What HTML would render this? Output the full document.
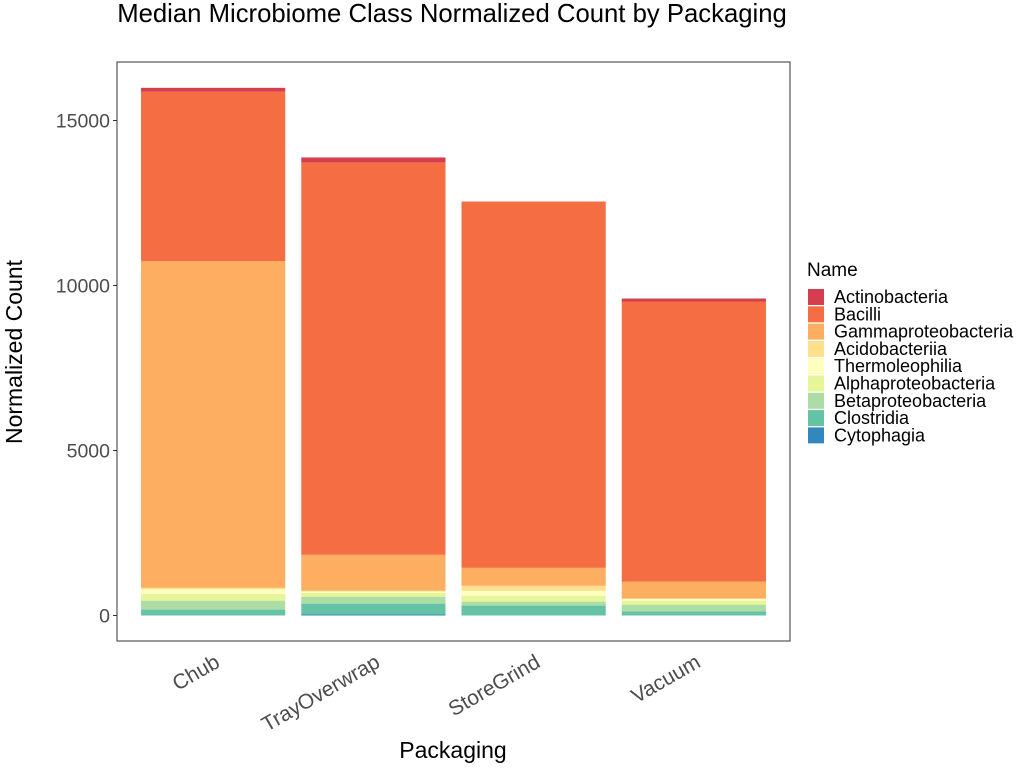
<!DOCTYPE html>
<html><head><meta charset="utf-8"><style>
body{margin:0;background:#fff;font-family:"Liberation Sans",sans-serif}
</style></head><body>
<svg id="chart" width="1024" height="768" xmlns="http://www.w3.org/2000/svg">
<text x="452" y="22" font-size="25.7" text-anchor="middle" fill="#000">Median Microbiome Class Normalized Count by Packaging</text>
<rect x="117" y="62" width="673" height="579" fill="#fff" stroke="#333" stroke-width="1"/>
<g id="bars"></g><g id="yaxis"></g><g id="xaxis"></g>
<text x="453" y="758" font-size="23" text-anchor="middle">Packaging</text>
<text transform="translate(22,352) rotate(-90)" font-size="23" text-anchor="middle">Normalized Count</text>
<text x="807" y="276" font-size="19">Name</text>
<g id="legend"></g>
</svg>
<script>
const categories=["Chub","TrayOverwrap","StoreGrind","Vacuum"];
const names=["Cytophagia","Clostridia","Betaproteobacteria","Alphaproteobacteria","Thermoleophilia","Acidobacteriia","Gammaproteobacteria","Bacilli","Actinobacteria"];
const colors=["#3288BD","#66C2A5","#ABDDA4","#E6F598","#FFFFBF","#FEE08B","#FDAE61","#F46D43","#D53E4F"];
const cytophagia=[0,30,0,0];
const clostridia=[180,330,300,120];
const betaproteobacteria=[270,210,120,210];
const alphaproteobacteria=[210,120,180,120];
const thermoleophilia=[140,40,150,60];
const acidobacteriia=[40,20,150,0];
const gammaproteobacteria=[9900,1090,545,515];
const bacilli=[5130,11890,11100,8490];
const actinobacteria=[120,150,0,90];
const series=[cytophagia,clostridia,betaproteobacteria,alphaproteobacteria,thermoleophilia,acidobacteriia,gammaproteobacteria,bacilli,actinobacteria];
const yTicks=[0,5000,10000,15000];
const NS="http://www.w3.org/2000/svg";
function y(v){return 615.5-v*0.033;}
function x(i){return 117+(i+1-0.4)*(673/4.2);}
const bw=0.9*673/4.2;
function mk(t,a,p){const e=document.createElementNS(NS,t);for(const k in a)e.setAttribute(k,a[k]);document.getElementById(p).appendChild(e);return e;}
categories.forEach((c,i)=>{let cum=0;series.forEach((s,j)=>{const v=s[i];if(v<=0)return;
const r=mk("rect",{x:x(i)-bw/2,y:y(cum+v),width:bw,height:y(cum)-y(cum+v),fill:colors[j]},"bars");


cum+=v;});
const t=mk("text",{transform:`translate(${x(i)+8},${666}) rotate(-30)`,"font-size":21,fill:"#4D4D4D","text-anchor":"end"},"xaxis");t.textContent=c;


});
yTicks.forEach(v=>{const l=mk("line",{x1:113,x2:117,y1:y(v),y2:y(v),stroke:"#333"},"yaxis");


const t=mk("text",{x:110,y:y(v)+7,"font-size":19.5,fill:"#4D4D4D","text-anchor":"end"},"yaxis");t.textContent=v;

});
const lo=names.slice().reverse(),lc=colors.slice().reverse();
lo.forEach((n,k)=>{const yy=289+k*17.3;
const r=mk("rect",{x:808,y:yy,width:16,height:16,fill:lc[k]},"legend");


const t=mk("text",{x:834,y:yy+14,"font-size":18},"legend");t.textContent=n;

});
</script>
</body></html>
